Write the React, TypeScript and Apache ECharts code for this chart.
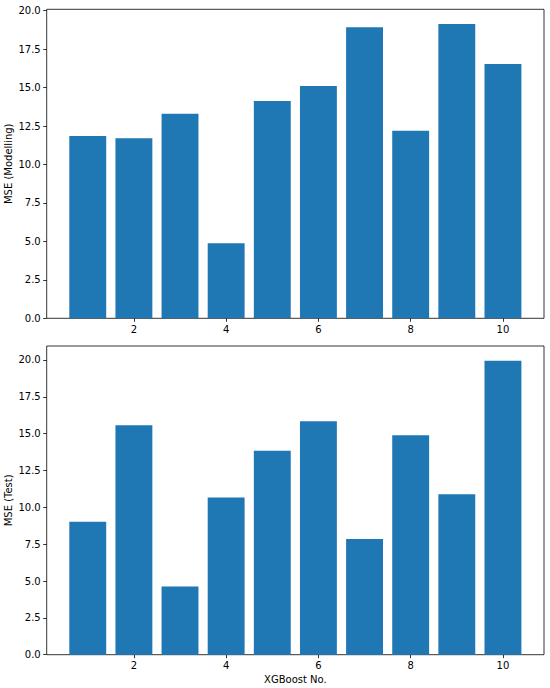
import React, { useEffect, useRef } from "react";
import * as echarts from "echarts";

const xgboostNo = [1, 2, 3, 4, 5, 6, 7, 8, 9, 10];
const mseModelling = [11.85, 11.7, 13.3, 4.88, 14.13, 15.1, 18.92, 12.2, 19.13, 16.53];
const mseTest = [9.02, 15.58, 4.62, 10.67, 13.84, 15.85, 7.85, 14.9, 10.89, 19.95];
const xTicks = [2, 4, 6, 8, 10];
const yTicks = [0, 2.5, 5, 7.5, 10, 12.5, 15, 17.5, 20];

const FONT = "DejaVu Sans";
const BAR_COLOR = "#1f77b4";

function renderBar(params: any, api: any) {
  const x = api.value(0);
  const y = api.value(1);
  const p1 = api.coord([x - 0.4, y]);
  const p2 = api.coord([x + 0.4, 0]);
  return {
    type: "rect",
    shape: { x: p1[0], y: p1[1], width: p2[0] - p1[0], height: p2[1] - p1[1] },
    style: { fill: BAR_COLOR },
  };
}

function xAxisDef(gridIndex: number, name: string) {
  return {
    type: "value",
    gridIndex,
    min: 0.11,
    max: 10.89,
    name,
    nameLocation: "middle",
    nameGap: 20,
    nameMoveOverlap: false,
    nameTextStyle: { fontFamily: FONT, fontSize: 10, color: "#000" },
    axisLine: { show: false },
    splitLine: { show: false },
    axisTick: {
      show: true,
      length: 3.5,
      lineStyle: { color: "#000", width: 0.8 },
      customValues: xTicks,
    },
    axisLabel: {
      fontFamily: FONT,
      fontSize: 10,
      color: "#000",
      margin: 6,
      customValues: xTicks,
      formatter: (v: number) => String(v),
    },
  };
}

function yAxisDef(gridIndex: number, name: string, max: number) {
  return {
    type: "value",
    gridIndex,
    min: 0,
    max,
    name,
    nameLocation: "middle",
    nameGap: 33,
    nameMoveOverlap: false,
    nameTextStyle: { fontFamily: FONT, fontSize: 10, color: "#000" },
    axisLine: { show: false },
    splitLine: { show: false },
    axisTick: {
      show: true,
      length: 3.5,
      lineStyle: { color: "#000", width: 0.8 },
      customValues: yTicks,
    },
    axisLabel: {
      fontFamily: FONT,
      fontSize: 10,
      color: "#000",
      margin: 6,
      customValues: yTicks,
      formatter: (v: number) => v.toFixed(1),
    },
  };
}

export default function App() {
  const ref = useRef<HTMLDivElement>(null);
  useEffect(() => {
    if (!ref.current) return;
    const chart = echarts.init(ref.current, null, { renderer: "svg" });
    const gridCommon = {
      show: true,
      borderColor: "#000",
      borderWidth: 0.8,
      backgroundColor: "transparent",
      left: 46.7,
      width: 497.3,
      containLabel: false,
      outerBoundsMode: "none",
    };
    chart.setOption({
      animation: false,
      backgroundColor: "#fff",
      grid: [
        { ...gridCommon, top: 9.3, height: 309 },
        { ...gridCommon, top: 346, height: 308.7 },
      ],
      xAxis: [xAxisDef(0, ""), xAxisDef(1, "XGBoost No.")],
      yAxis: [
        yAxisDef(0, "MSE (Modelling)", 20.09),
        yAxisDef(1, "MSE (Test)", 20.95),
      ],
      series: [
        {
          type: "custom",
          xAxisIndex: 0,
          yAxisIndex: 0,
          renderItem: renderBar,
          data: xgboostNo.map((x, i) => [x, mseModelling[i]]),
        },
        {
          type: "custom",
          xAxisIndex: 1,
          yAxisIndex: 1,
          renderItem: renderBar,
          data: xgboostNo.map((x, i) => [x, mseTest[i]]),
        },
      ],
    });
    return () => chart.dispose();
  }, []);
  return (
    <div
      ref={ref}
      style={{ position: "fixed", left: 0, top: 0, width: 550, height: 688 }}
    />
  );
}
